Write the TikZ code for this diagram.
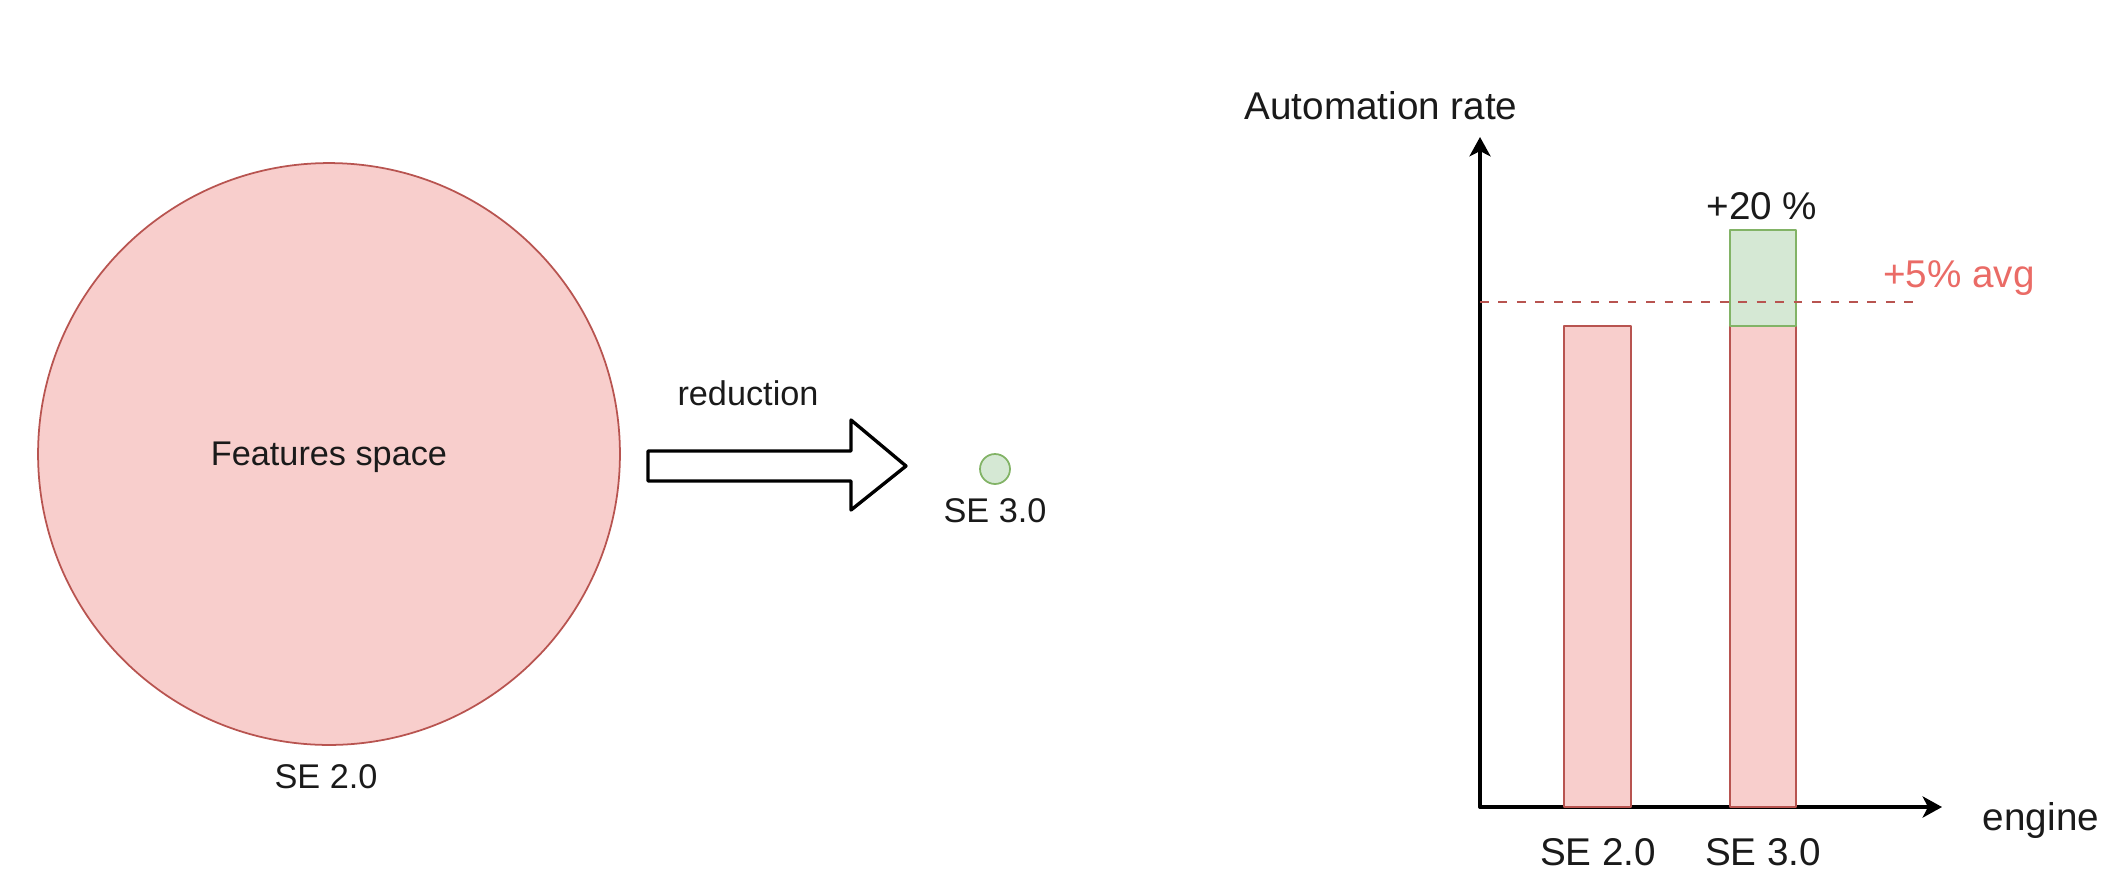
\documentclass[tikz,border=0pt]{standalone}
\usepackage{fontspec}
\setmainfont{Liberation Sans}
\usetikzlibrary{arrows.meta}

\definecolor{pinkfill}{HTML}{F8CECC}
\definecolor{pinkline}{HTML}{B85450}
\definecolor{greenfill}{HTML}{D5E8D4}
\definecolor{greenline}{HTML}{82B366}
\definecolor{avgred}{HTML}{EA6B66}
\definecolor{ink}{HTML}{1A1A1A}

\begin{document}
\begin{tikzpicture}[line cap=round, line join=round, x=0.02cm, y=-0.02cm,
        lbl/.style={text=ink, inner sep=0pt, anchor=base, font=\fontsize{19.5}{23}\selectfont},
        chartlbl/.style={text=ink, inner sep=0pt, anchor=base, font=\fontsize{22}{26}\selectfont},
        redbar/.style={draw=pinkline, fill=pinkfill, line width=1.4pt},
        greenbar/.style={draw=greenline, fill=greenfill, line width=1.4pt},
        axis/.style={line width=2pt, -{Stealth[length=11pt, width=12pt, inset=3pt]}},
        avgline/.style={draw=pinkline, line width=1.2pt, line cap=butt, dash pattern=on 5pt off 5.5pt}]

            \useasboundingbox (0,0) rectangle (2112,880);

            \node[circle, draw=pinkline, fill=pinkfill, line width=1pt, minimum size=11.64cm,
                text=ink, text depth=0pt, font=\fontsize{19.5}{23}\selectfont] (space) at (329,454) {Features space};
            \node[lbl] (oldse) at (326,788) {SE 2.0};

            \draw[line width=1.9pt, fill=white] (648,451) -- (851,451) -- (851,420) -- (906,466)
                -- (851,510) -- (851,481) -- (648,481) -- cycle;
            \node[lbl] (reduce) at (748,405) {reduction};

            \node[circle, draw=greenline, fill=greenfill, line width=1pt, minimum size=0.6cm, inner sep=0pt] (newse) at (995,469) {};
            \node[lbl] (newsetxt) at (995,522) {SE 3.0};

            \coordinate (origin) at (1480,807);
            \coordinate (ytip) at (1480,137);
            \coordinate (xtip) at (1942,807);
            \draw[axis] (origin) -- (ytip);
            \draw[axis] (origin) -- (xtip);

            \draw[redbar] (1564,807) rectangle (1631,326);
            \draw[redbar] (1730,807) rectangle (1796,326);
            \draw[greenbar] (1730,326) rectangle (1796,230);
            \draw[avgline] (1480,302) -- (1913,302);

            \node[chartlbl] (ylabel) at (1381,119) {Automation rate};
            \node[chartlbl] (xlabel) at (2041,830) {engine};
            \node[chartlbl] (gainlabel) at (1762,219) {+20 \%};
            \node[chartlbl, text=avgred] (avglabel) at (1959,287) {+5\% avg};
            \node[chartlbl] (bartwo) at (1598,865) {SE 2.0};
            \node[chartlbl] (barthree) at (1763,865) {SE 3.0};

        \end{tikzpicture}
\end{document}
